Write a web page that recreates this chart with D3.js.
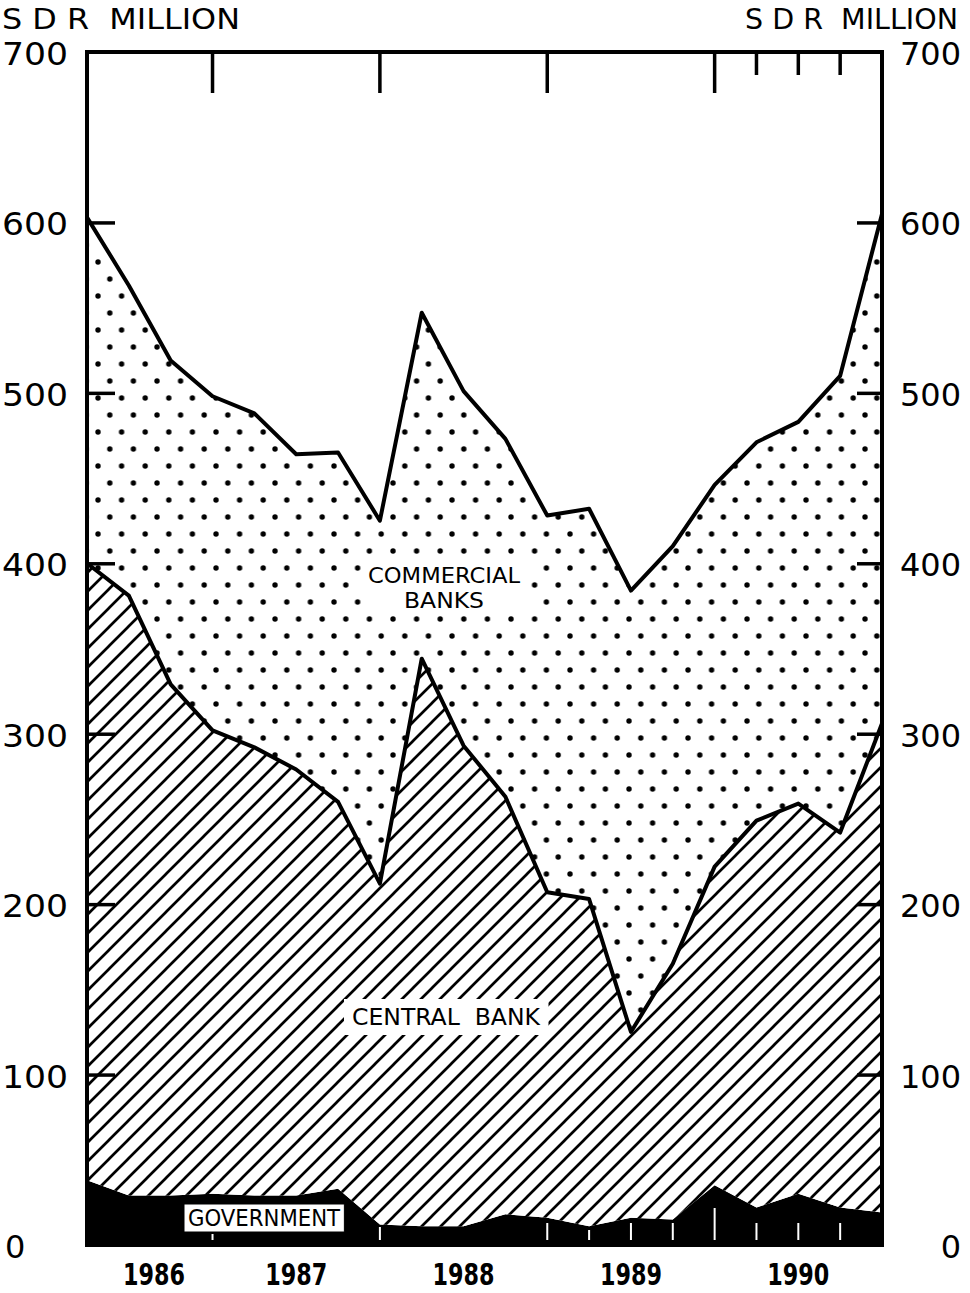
<!DOCTYPE html>
<html><head><meta charset="utf-8">
<script src="https://cdn.jsdelivr.net/npm/d3@7"></script>
<style>
html,body{margin:0;padding:0;background:#fff;}
svg{display:block;}
text{font-family:"DejaVu Sans Condensed","DejaVu Sans",sans-serif;fill:#000;white-space:pre;}
</style></head>
<body>
<svg id="c" width="970" height="1293"></svg>
<script>
// quarterly observations, index 0..19
const quarters = d3.range(20);
const government = [38,29,29,30,29,29,33,12,11,11,18,16,11,16,15,35,22,30,22,19];
const centralBank = [362,352,300,272,263,250,227,200,333,282,245,191,192,109,150,187,227,229,220,287];
const commercialBanks = [203,182,190,196,196,185,205,213,203,208,210,221,229,259,245,224,222,224,268,299];
const yTicks = [0,100,200,300,400,500,600,700];
const years = ["1986","1987","1988","1989","1990"];
const yearMid = [1.6,5,9,13,17];
const yearBounds = [3,7,11,15];
const quarterTicks1990 = [16,17,18];
const bottomTicks = [3,7,11,12,13,14,15,16,17,18];
const unitLabel = "S D R  MILLION";

const svg = d3.select("#c");
const L=87, R=882, T=52, B=1245;
const x = d3.scaleLinear().domain([0,19]).range([L,R]);
const y = d3.scaleLinear().domain([0,700]).range([B,T]);

const defs = svg.append("defs");
// dots pattern
const dp = defs.append("pattern").attr("id","dots").attr("patternUnits","userSpaceOnUse")
  .attr("width",23.6).attr("height",34).attr("x",L+8).attr("y",T+3);
dp.append("rect").attr("width",23.6).attr("height",34).attr("fill","#fff");
dp.append("circle").attr("cx",3).attr("cy",3).attr("r",2.7).attr("fill","#000");
dp.append("circle").attr("cx",14.8).attr("cy",20).attr("r",2.7).attr("fill","#000");
// hatch pattern
const hs = 19;
const hp = defs.append("pattern").attr("id","hatch").attr("patternUnits","userSpaceOnUse")
  .attr("width",hs).attr("height",hs).attr("x",L+3).attr("y",0);
hp.append("rect").attr("width",hs).attr("height",hs).attr("fill","#fff");
hp.append("path").attr("d",`M-2,${hs+2} L${hs+2},-2 M-2,2 L2,-2 M${hs-2},${hs+2} L${hs+2},${hs-2}`)
  .attr("stroke","#000").attr("stroke-width",2.7);
defs.append("clipPath").attr("id","plot").append("rect").attr("x",L).attr("y",T).attr("width",R-L).attr("height",B-T);

const rows = quarters.map(i=>({i, gov:government[i], cb:centralBank[i], com:commercialBanks[i]}));
const stack = d3.stack().keys(["gov","cb","com"])(rows);
const fills = {gov:"#000", cb:"url(#hatch)", com:"url(#dots)"};

const g = svg.append("g").attr("clip-path","url(#plot)");
const area = d3.area().x(d=>x(d.data.i)).y0(d=>y(d[0])).y1(d=>y(d[1]));
stack.forEach(s=>{
  g.append("path").attr("d",area(s)).attr("fill",fills[s.key]);
});
const line = d3.line().x(d=>x(d.data.i)).y(d=>y(d[1]));
g.append("path").attr("d",line(stack[1])).attr("fill","none").attr("stroke","#000").attr("stroke-width",4).attr("stroke-linejoin","round");
g.append("path").attr("d",line(stack[2])).attr("fill","none").attr("stroke","#000").attr("stroke-width",4).attr("stroke-linejoin","round");

// series labels with cleared backgrounds
function label(lines, cx, cy, size, lh, pad, widths){
  const gg = svg.append("g");
  const rect = gg.append("rect").attr("fill","#fff");
  const t = gg.append("text").attr("text-anchor","middle").attr("font-size",size);
  lines.forEach((s,k)=>{
    const ts = t.append("tspan").attr("x",cx).attr("y",cy+k*lh).text(s);
    if(widths) ts.attr("textLength",widths[k]).attr("lengthAdjust","spacingAndGlyphs");
  });
  const bb = t.node().getBBox();
  rect.attr("x",bb.x-pad).attr("y",bb.y-pad+3).attr("width",bb.width+2*pad).attr("height",bb.height+2*pad-6);
  return {gg,t,rect};
}
label(["COMMERCIAL","BANKS"], 444, 583, 22, 25, 6, [152,80]);
label(["CENTRAL  BANK"], 446, 1025, 23, 0, 8, [188]);
const gl = label(["GOVERNMENT"], 264, 1226, 23, 0, 4, [152]);
gl.rect.attr("stroke","#000").attr("stroke-width",1);

// bottom white ticks inside government area
bottomTicks.forEach(q=>{
  const len = q===15?32:(q===3?6:(q===7?13:(q===12?10:17)));
  svg.append("line").attr("x1",x(q)).attr("x2",x(q)).attr("y1",B-5).attr("y2",B-5-len)
    .attr("stroke","#fff").attr("stroke-width",2);
});

// frame
svg.append("rect").attr("x",L).attr("y",T).attr("width",R-L).attr("height",B-T)
  .attr("fill","none").attr("stroke","#000").attr("stroke-width",4);

// top ticks
yearBounds.forEach(q=>svg.append("line").attr("x1",x(q)).attr("x2",x(q)).attr("y1",T).attr("y2",T+41).attr("stroke","#000").attr("stroke-width",3.5));
quarterTicks1990.forEach(q=>svg.append("line").attr("x1",x(q)).attr("x2",x(q)).attr("y1",T).attr("y2",T+23).attr("stroke","#000").attr("stroke-width",3.5));

// y axes (ticks inside)
const la = svg.append("g").attr("transform",`translate(${L},0)`)
  .call(d3.axisRight(y).tickValues(yTicks.filter(v=>v>0&&v<700)).tickSize(28).tickFormat(""));
la.select(".domain").remove();
la.selectAll("line").attr("stroke","#000").attr("stroke-width",3.5);
const ra = svg.append("g").attr("transform",`translate(${R},0)`)
  .call(d3.axisLeft(y).tickValues(yTicks.filter(v=>v>0&&v<700)).tickSize(25).tickFormat(""));
ra.select(".domain").remove();
ra.selectAll("line").attr("stroke","#000").attr("stroke-width",3.5);

// y labels
svg.append("g").selectAll("text").data(yTicks).join("text")
  .attr("x",d=>d===0?5:2).attr("y",d=>y(d)+13).attr("font-size",32).attr("text-anchor","start")
  .attr("textLength",d=>d===0?null:66).attr("lengthAdjust","spacingAndGlyphs")
  .style("font-family","'DejaVu Sans',sans-serif").text(d=>d);
svg.append("g").selectAll("text").data(yTicks).join("text")
  .attr("x",961).attr("y",d=>y(d)+13).attr("font-size",32).attr("text-anchor","end")
  .style("font-family","'DejaVu Sans',sans-serif").text(d=>d);

// unit labels
svg.append("text").attr("x",2).attr("y",29).attr("font-size",29).attr("textLength",238).attr("lengthAdjust","spacingAndGlyphs")
  .style("font-family","'DejaVu Sans',sans-serif").text(unitLabel);
svg.append("text").attr("x",745).attr("y",29).attr("font-size",29).attr("textLength",213).attr("lengthAdjust","spacingAndGlyphs")
  .style("font-family","'DejaVu Sans',sans-serif").text(unitLabel);

// year labels
svg.append("g").selectAll("text").data(years).join("text")
  .attr("x",(d,k)=>x(yearMid[k])).attr("y",1285).attr("font-size",30).attr("font-weight","bold")
  .attr("text-anchor","middle").attr("textLength",62).attr("lengthAdjust","spacingAndGlyphs").text(d=>d);
</script>
</body></html>
